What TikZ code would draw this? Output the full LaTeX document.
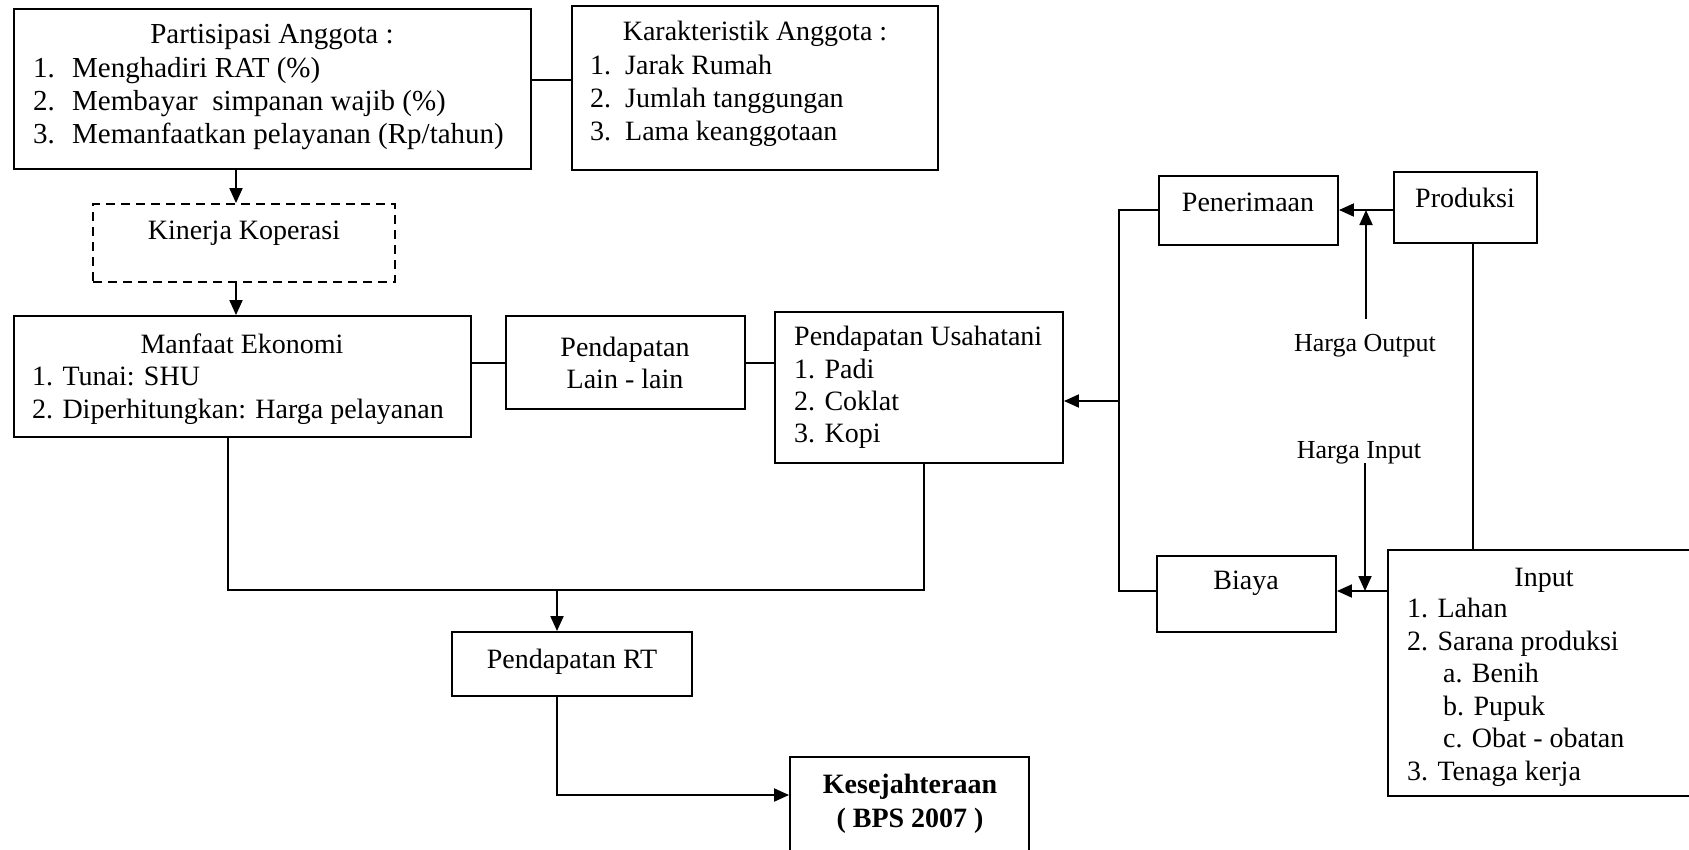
\documentclass[tikz,border=0pt]{standalone}
\usepackage{fontspec}
\setmainfont{Liberation Serif}
\usetikzlibrary{arrows.meta}
\begin{document}
\begin{tikzpicture}[x=1pt,y=-1pt,
  bx/.style={draw, line width=1.9pt, inner sep=0pt, rectangle},
  ln/.style={line width=1.9pt},
  arr/.style={line width=1.9pt, -{Triangle[length=15pt,width=13pt]}},
  txt/.style={inner sep=0pt, font=\fontsize{28}{33}\selectfont},
  txtb/.style={inner sep=0pt, font=\fontsize{29}{34}\selectfont},
  lbl/.style={inner sep=0pt, font=\fontsize{26}{30}\selectfont}]
\useasboundingbox (0,0) rectangle (1689,849);
% boxes
\node[bx, minimum width=517pt, minimum height=160pt] (pa) at (272.5,89) {};
\node[bx, minimum width=366pt, minimum height=164pt] (ka) at (755,88) {};
\node[bx, dash pattern=on 9pt off 6pt, minimum width=302pt, minimum height=78pt] (ki) at (244,243) {};
\node[bx, minimum width=457pt, minimum height=121pt] (me) at (242.5,376.5) {};
\node[bx, minimum width=239pt, minimum height=93pt] (la) at (625.5,362.5) {};
\node[bx, minimum width=288pt, minimum height=151pt] (us) at (919,387.5) {};
\node[bx, minimum width=240pt, minimum height=64pt] (rt) at (572,664) {};
\node[bx, minimum width=239pt, minimum height=123pt] (ks) at (909.5,818.5) {};
\node[bx, minimum width=179pt, minimum height=69pt] (pe) at (1248.5,210.5) {};
\node[bx, minimum width=143pt, minimum height=71pt] (pr) at (1465.5,207.5) {};
\node[bx, minimum width=179pt, minimum height=76pt] (bi) at (1246.5,594) {};
\node[bx, minimum width=352pt, minimum height=246pt] (in) at (1564,673) {};
% texts
\node[txtb, anchor=base] (pat) at (272,43) {Partisipasi Anggota :};
\node[txtb, anchor=base west] (pa1n) at (33,77) {1.};
\node[txtb, anchor=base west] (pa1) at (72,77) {Menghadiri RAT (\%)};
\node[txtb, anchor=base west] (pa2n) at (33,110) {2.};
\node[txtb, anchor=base west] (pa2) at (72,110) {Membayar\ \ simpanan wajib (\%)};
\node[txtb, anchor=base west] (pa3n) at (33,143) {3.};
\node[txtb, anchor=base west] (pa3) at (72,143) {Memanfaatkan pelayanan (Rp/tahun)};
\node[txt, anchor=base] (kat) at (755,40) {Karakteristik Anggota :};
\node[txt, anchor=base west] (ka1n) at (590,74) {1.};
\node[txt, anchor=base west] (ka1) at (625,74) {Jarak Rumah};
\node[txt, anchor=base west] (ka2n) at (590,107) {2.};
\node[txt, anchor=base west] (ka2) at (625,107) {Jumlah tanggungan};
\node[txt, anchor=base west] (ka3n) at (590,140) {3.};
\node[txt, anchor=base west] (ka3) at (625,140) {Lama keanggotaan};
\node[txt, anchor=base] (kit) at (244,239) {Kinerja Koperasi};
\node[txt, anchor=base] (met) at (242,353) {Manfaat Ekonomi};
\node[txt, anchor=base west] (me1) at (32,385) {1. Tunai: SHU};
\node[txt, anchor=base west] (me2) at (32,418) {2. Diperhitungkan: Harga pelayanan};
\node[txt, anchor=base] (la1) at (625,356) {Pendapatan};
\node[txt, anchor=base] (la2) at (625,388) {Lain - lain};
\node[txt, anchor=base west] (ust) at (794,345) {Pendapatan Usahatani};
\node[txt, anchor=base west] (us1) at (794,378) {1. Padi};
\node[txt, anchor=base west] (us2) at (794,410) {2. Coklat};
\node[txt, anchor=base west] (us3) at (794,442) {3. Kopi};
\node[txt, anchor=base] (rtt) at (572,668) {Pendapatan RT};
\node[txt, anchor=base, font=\fontsize{28}{33}\selectfont\bfseries] (ks1) at (910,793) {Kesejahteraan};
\node[txt, anchor=base, font=\fontsize{28}{33}\selectfont\bfseries] (ks2) at (910,827) {( BPS 2007 )};
\node[txt, anchor=base] (pet) at (1248,211) {Penerimaan};
\node[txt, anchor=base] (prt) at (1465,207) {Produksi};
\node[txt, anchor=base] (bit) at (1246,589) {Biaya};
\node[lbl, anchor=base] (hout) at (1365,351) {Harga Output};
\node[lbl, anchor=base] (hin) at (1359,458) {Harga Input};
\node[txt, anchor=base] (int) at (1544,586) {Input};
\node[txt, anchor=base west] (in1) at (1407,617) {1. Lahan};
\node[txt, anchor=base west] (in2) at (1407,650) {2. Sarana produksi};
\node[txt, anchor=base west] (in2a) at (1443,682) {a. Benih};
\node[txt, anchor=base west] (in2b) at (1443,715) {b. Pupuk};
\node[txt, anchor=base west] (in2c) at (1443,747) {c. Obat - obatan};
\node[txt, anchor=base west] (in3) at (1407,780) {3. Tenaga kerja};
% coordinates
\coordinate (j1) at (228,590);
\coordinate (j2) at (924,590);
\coordinate (j3) at (557,590);
\coordinate (v1) at (1119,210);
\coordinate (v2) at (1119,591);
\coordinate (v3) at (1119,401);
\coordinate (hos) at (1366,319);
\coordinate (hoe) at (1366,210);
\coordinate (his) at (1365,463);
\coordinate (hie) at (1365,591);
% connectors
\draw[ln] (pa.east |- 0,80) -- (ka.west |- 0,80);
\draw[arr] (pa.south -| 236,0) -- (ki.north -| 236,0);
\draw[arr] (ki.south -| 236,0) -- (me.north -| 236,0);
\draw[ln] (me.east |- 0,363) -- (la.west |- 0,363);
\draw[ln] (la.east |- 0,363) -- (us.west |- 0,363);
\draw[ln] (me.south -| j1) -- (j1) -- (j2) -- (us.south -| j2);
\draw[arr] (j3) -- (rt.north -| j3);
\draw[arr] (rt.south -| j3) |- (ks.west |- 0,795);
\draw[arr] (pr.west |- hoe) -- (pe.east |- hoe);
\draw[arr] (hos) -- (hoe);
\draw[ln] (pe.west |- v1) -- (v1) -- (v2) -- (bi.west |- v2);
\draw[arr] (v3) -- (us.east |- v3);
\draw[ln] (pr.south -| 1473,0) -- (in.north -| 1473,0);
\draw[arr] (in.west |- hie) -- (bi.east |- hie);
\draw[arr] (his) -- (hie);
\end{tikzpicture}
\end{document}
